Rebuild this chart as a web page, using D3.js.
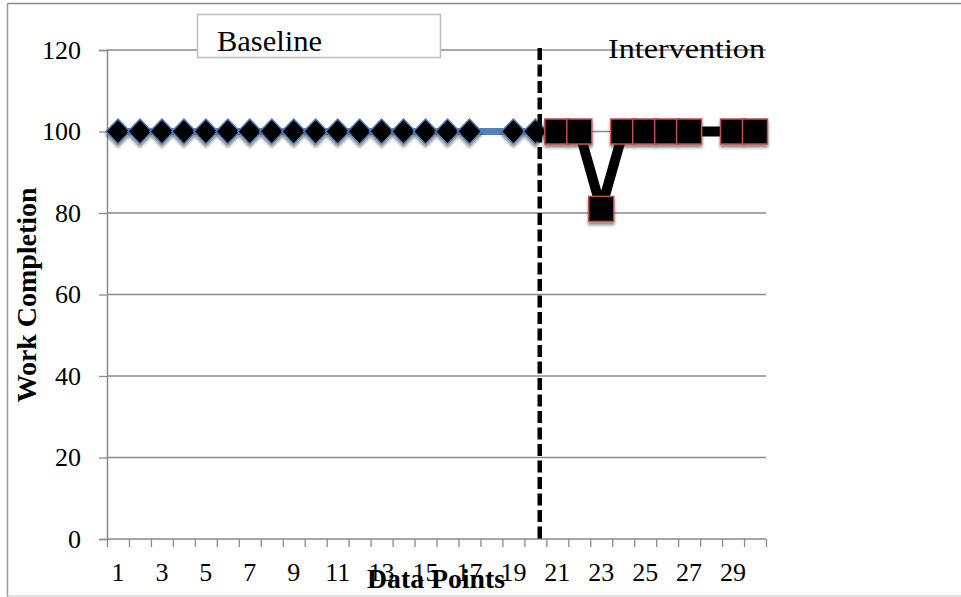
<!DOCTYPE html>
<html>
<head>
<meta charset="utf-8">
<script src="https://cdn.jsdelivr.net/npm/d3@7"></script>
<style>
  html, body { margin: 0; padding: 0; background: #fff; }
  svg { display: block; }
  text { font-family: "Liberation Serif", "Times New Roman", serif; fill: #000; }
</style>
</head>
<body>
<svg id="chart" width="961" height="597"></svg>
<script>
// Sessions 1..30
const sessions = d3.range(1, 31);
// Baseline phase (sessions 1-20); session 18 not recorded
const baselineValues = [100,100,100,100,100,100,100,100,100,100,100,100,100,100,100,100,100,null,100,100];
// Intervention phase (sessions 21-30); session 28 not recorded
const interventionValues = [100,100,81,100,100,100,100,null,100,100];
const yTicks = [0, 20, 40, 60, 80, 100, 120];
const xTickLabels = sessions.filter(d => d % 2 === 1);
const phaseChangeAt = 20.2;
const phaseLabels = ["Baseline", "Intervention"];

const baseline = baselineValues.map((v, i) => ({ s: i + 1, v }));
const intervention = interventionValues.map((v, i) => ({ s: i + 21, v }));

const svg = d3.select("#chart");
const plotLeft = 107, plotRight = 766, plotTop = 50, plotBottom = 539;

const x = d3.scaleLinear().domain([0.5, 30.5]).range([plotLeft, plotRight]);
const y = d3.scaleLinear().domain([0, 120]).range([plotBottom, plotTop]);

// drop shadow for markers
const defs = svg.append("defs");
const f = defs.append("filter").attr("id", "shadow")
  .attr("x", "-50%").attr("y", "-50%").attr("width", "200%").attr("height", "200%");
f.append("feDropShadow").attr("dx", 0).attr("dy", 3).attr("stdDeviation", 1.8)
  .attr("flood-color", "#000").attr("flood-opacity", 0.45);

// outer frame
svg.append("line").attr("x1", 7.5).attr("x2", 961).attr("y1", 3.5).attr("y2", 3.5)
  .attr("stroke", "#8a8a8a").attr("stroke-width", 1.5);
svg.append("line").attr("x1", 7.5).attr("x2", 7.5).attr("y1", 3.5).attr("y2", 597)
  .attr("stroke", "#9a9a9a").attr("stroke-width", 1.5);
svg.append("line").attr("x1", 7.5).attr("x2", 961).attr("y1", 596).attr("y2", 596)
  .attr("stroke", "#d8d8d8").attr("stroke-width", 1.5);

// horizontal gridlines
svg.append("g").selectAll("line").data(yTicks.filter(d => d > 0)).join("line")
  .attr("x1", plotLeft).attr("x2", plotRight)
  .attr("y1", d => y(d)).attr("y2", d => y(d))
  .attr("stroke", "#8a8a8a").attr("stroke-width", 1.3);

// y axis
const yAxis = svg.append("g").attr("transform", `translate(${plotLeft},0)`)
  .call(d3.axisLeft(y).tickValues(yTicks).tickSize(8).tickPadding(18));
yAxis.select(".domain").attr("stroke", "#8a8a8a").attr("stroke-width", 1.5);
yAxis.selectAll(".tick line").attr("stroke", "#8a8a8a").attr("stroke-width", 1.3);
yAxis.selectAll(".tick text").attr("font-size", 26).attr("font-family", "Liberation Serif")
  .attr("fill", "#000");

// x axis: tick marks at category boundaries, labels at odd sessions
const boundaries = d3.range(0.5, 31, 1);
const xAxis = svg.append("g").attr("transform", `translate(0,${plotBottom})`)
  .call(d3.axisBottom(x).tickValues(boundaries).tickSize(8).tickFormat(""));
xAxis.select(".domain").attr("stroke", "#8a8a8a").attr("stroke-width", 1.5)
  .attr("d", `M${plotLeft},0H${plotRight}`);
xAxis.selectAll(".tick line").attr("stroke", "#8a8a8a").attr("stroke-width", 1.3);
svg.append("g").selectAll("text").data(xTickLabels).join("text")
  .attr("x", d => x(d)).attr("y", 581)
  .attr("text-anchor", "middle").attr("font-size", 26)
  .text(d => d);

// phase label box
const box = svg.append("g");
box.append("rect").attr("x", 197.5).attr("y", 14.5).attr("width", 243).attr("height", 43)
  .attr("fill", "#fff").attr("stroke", "#bdbdbd").attr("stroke-width", 1.5);
box.append("text").attr("x", 217).attr("y", 51).attr("font-size", 29)
  .attr("textLength", 105).attr("lengthAdjust", "spacingAndGlyphs").text(phaseLabels[0]);
svg.append("text").attr("x", 608).attr("y", 58).attr("font-size", 27)
  .attr("textLength", 157).attr("lengthAdjust", "spacingAndGlyphs").text(phaseLabels[1]);

// axis titles
svg.append("text").attr("transform", `translate(36,${295}) rotate(-90)`)
  .attr("text-anchor", "middle").attr("font-weight", "bold").attr("font-size", 27)
  .attr("textLength", 215).attr("lengthAdjust", "spacingAndGlyphs")
  .text("Work Completion");
svg.append("text").attr("x", 436).attr("y", 588)
  .attr("text-anchor", "middle").attr("font-weight", "bold").attr("font-size", 27)
  .attr("textLength", 138).attr("lengthAdjust", "spacingAndGlyphs")
  .text("Data Points");

const line = d3.line().x(d => x(d.s)).y(d => y(d.v));

// baseline series
const bDef = baseline.filter(d => d.v != null);
svg.append("path").datum(bDef).attr("d", line)
  .attr("fill", "none").attr("stroke", "#4f81bd").attr("stroke-width", 7)
  .attr("stroke-linejoin", "round");
const diamond = "M0,-12.5L12,0L0,12.5L-12,0Z";
svg.append("g").attr("filter", "url(#shadow)").selectAll("path").data(bDef).join("path")
  .attr("transform", d => `translate(${x(d.s)},${y(d.v)})`)
  .attr("d", diamond)
  .attr("fill", "#000").attr("stroke", "#4f81bd").attr("stroke-width", 1.5);

// phase change line
svg.append("line").attr("x1", x(phaseChangeAt)).attr("x2", x(phaseChangeAt))
  .attr("y1", plotTop - 2).attr("y2", plotBottom + 3)
  .attr("stroke", "#000").attr("stroke-width", 4.5).attr("stroke-dasharray", "12,4.5");

// intervention series
const iDef = intervention.filter(d => d.v != null);
svg.append("path").datum(iDef).attr("d", line)
  .attr("fill", "none").attr("stroke", "#000").attr("stroke-width", 10)
  .attr("stroke-linejoin", "round");
svg.append("g").attr("filter", "url(#shadow)").selectAll("rect").data(iDef).join("rect")
  .attr("x", d => x(d.s) - 12.5).attr("y", d => y(d.v) - 12.5)
  .attr("width", 25).attr("height", 25)
  .attr("fill", "#000").attr("stroke", "#c0504d").attr("stroke-width", 1.5);
</script>
</body>
</html>
